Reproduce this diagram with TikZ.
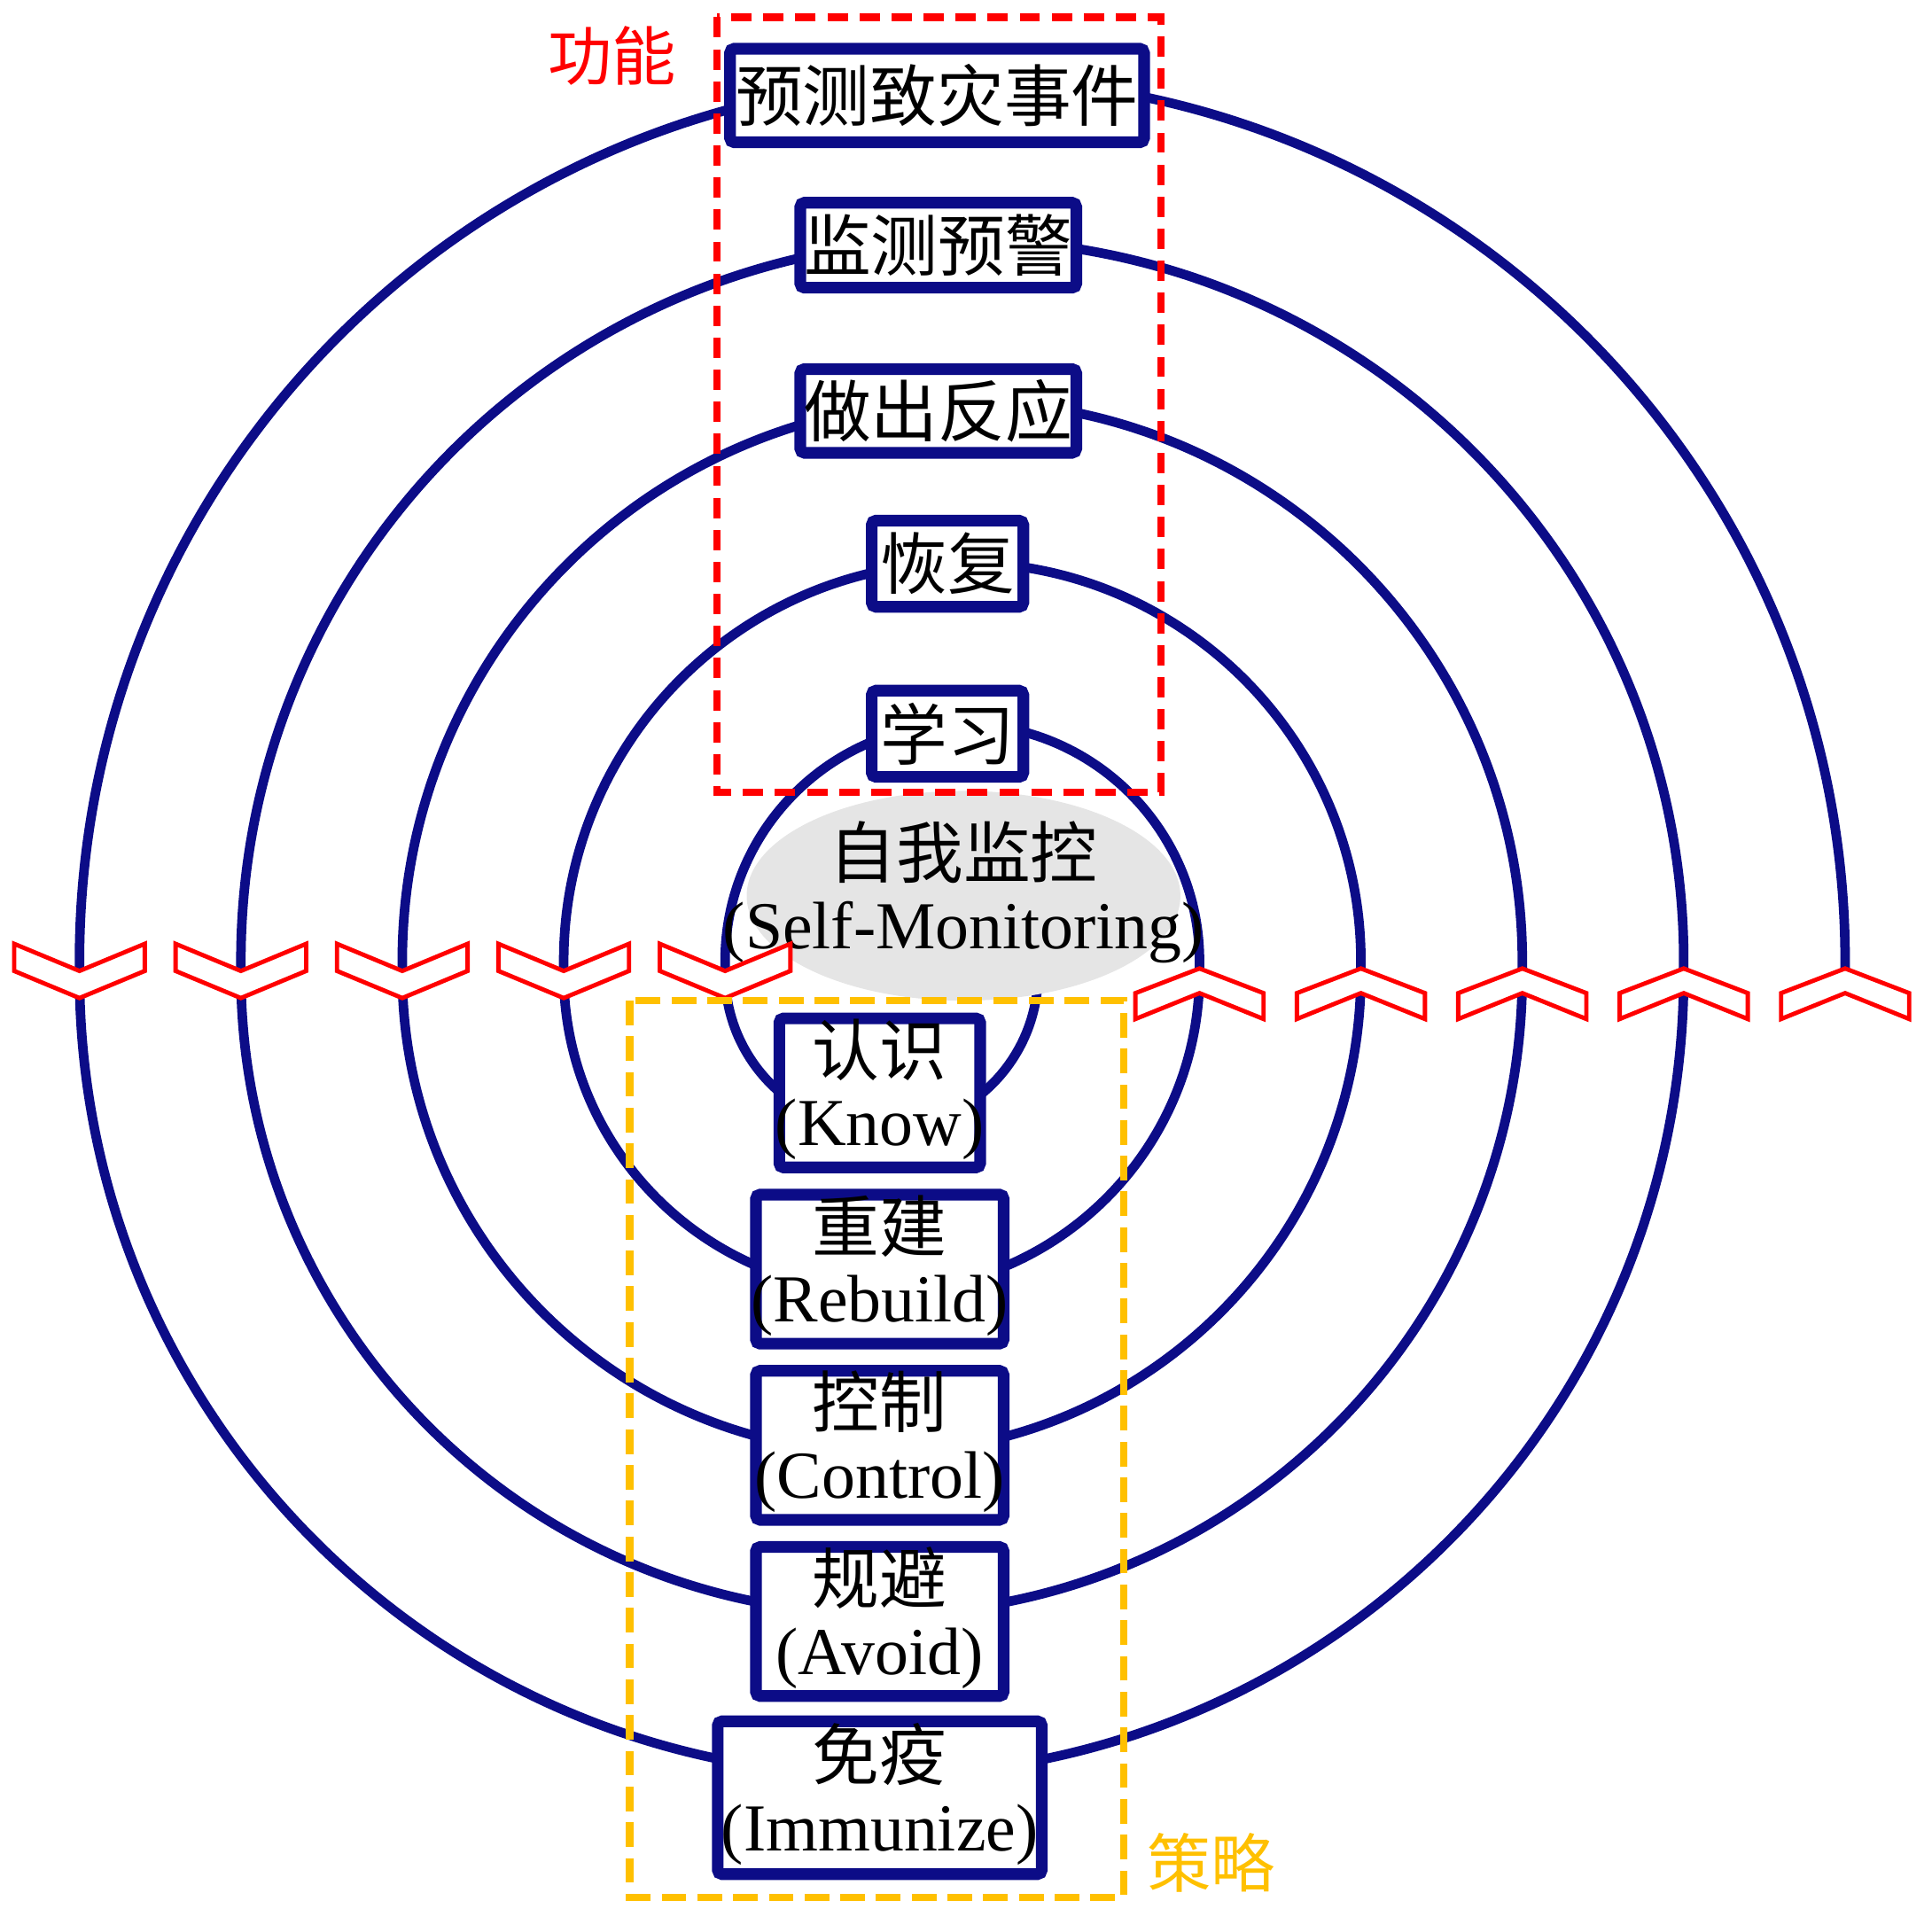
\documentclass[tikz,border=0pt]{standalone}
\usepackage{fontspec}
\setmainfont{Liberation Serif}
\newfontfamily\cjk{Noto Sans CJK SC}
\usetikzlibrary{positioning,shapes.geometric}

\definecolor{ringblue}{RGB}{12,12,135}
\definecolor{stratgold}{RGB}{255,192,0}
\newcommand{\bigfont}{\fontsize{15.5}{16.3}\selectfont}
% two-line label: Chinese over (English), no width of its own
\newcommand{\duo}[2]{\makebox[0pt]{\begin{tabular}{@{}c@{}}{\cjk #1}\\(#2)\end{tabular}}}

\begin{document}
\begin{tikzpicture}[x=0.1mm,y=-0.1mm,node distance=14.3mm,
  ring/.style={draw=ringblue,line width=2.2pt},
  funcbox/.style={draw=ringblue,line width=2.7pt,fill=white,rounded corners=1pt,
                  inner sep=0pt,font=\bigfont\cjk},
  stratbox/.style={funcbox,font=\bigfont,minimum height=12.1mm},
  chevron/.style={draw=red,line width=1pt,fill=white},
  funcframe/.style={draw=red,line width=1.7pt,dash pattern=on 1.65mm off 0.95mm},
  stratframe/.style={draw=stratgold,line width=1.7pt,dash pattern=on 2mm off 0.9mm}]
  \useasboundingbox (0,0) rectangle (1568,1568);

  % the spiral: upper halves round (781,780), lower halves round (715.5,790)
  \foreach \k in {0,...,4}{
    \pgfmathsetmacro{\rt}{716.5-131*\k}
    \pgfmathsetmacro{\rb}{651-131*\k}
    \draw[ring] ({781+\rt},790) -- ({781+\rt},780)
      arc[start angle=0,end angle=-180,radius=\rt] -- ++(0,10)
      arc[start angle=180,end angle=0,radius=\rb];
  }

  % functions
  \node[funcbox,minimum width=33.6mm,minimum height=7.6mm] (f1) at (760.5,77.5) {预测致灾事件};
  \node[funcbox,minimum width=22.4mm,minimum height=6.9mm] (f2) at (761.5,199) {监测预警};
  \node[funcbox,minimum width=22.4mm,minimum height=6.8mm] (f3) at (761.5,333.5) {做出反应};
  \node[funcbox,minimum width=12.3mm,minimum height=7mm] (f4) at (769,457.5) {恢复};
  \node[funcbox,minimum width=12.3mm,minimum height=7mm] (f5) at (769,595.5) {学习};

  % strategies
  \node[stratbox,minimum width=16.3mm] (s1) at (714,887) {\duo{认识}{Know}};
  \node[stratbox,minimum width=20.1mm] (s2) [below of=s1] {\duo{重建}{Rebuild}};
  \node[stratbox,minimum width=20.1mm] (s3) [below of=s2] {\duo{控制}{Control}};
  \node[stratbox,minimum width=20.1mm] (s4) [below of=s3] {\duo{规避}{Avoid}};
  \node[stratbox,minimum width=26.3mm,minimum height=12.4mm] (s5) [below of=s4] {\duo{免疫}{Immunize}};

  \node[ellipse,fill=black!10,inner sep=0pt,minimum width=35.2mm,minimum height=15.4mm,
        font=\bigfont] (selfmon) at (782,727) {\duo{自我监控}{Self-Monitoring}};

  % direction marks
  \foreach \x in {64.5,195.5,326.5,457.5,588.5}
    \draw[chevron] (\x-53,766) -- (\x,788) -- (\x+53,766) -- (\x+53,788)
      -- (\x,810) -- (\x-53,788) -- cycle;
  \foreach \x in {973.5,1104.5,1235.5,1366.5,1497.5}
    \draw[chevron] (\x-52,806) -- (\x,786) -- (\x+52,806) -- (\x+52,827)
      -- (\x,806) -- (\x-52,827) -- cycle;

  \draw[funcframe] (582,14) rectangle (942,643);
  \draw[stratframe] (511,812) rectangle (912,1540);

  \node[text=red,font=\fontsize{14.8}{16}\selectfont\cjk] (lblfunc) at (497,45) {功能};
  \node[text=stratgold,font=\fontsize{14.8}{16}\selectfont\cjk] (lblstrat) at (983,1512) {策略};
\end{tikzpicture}
\end{document}
